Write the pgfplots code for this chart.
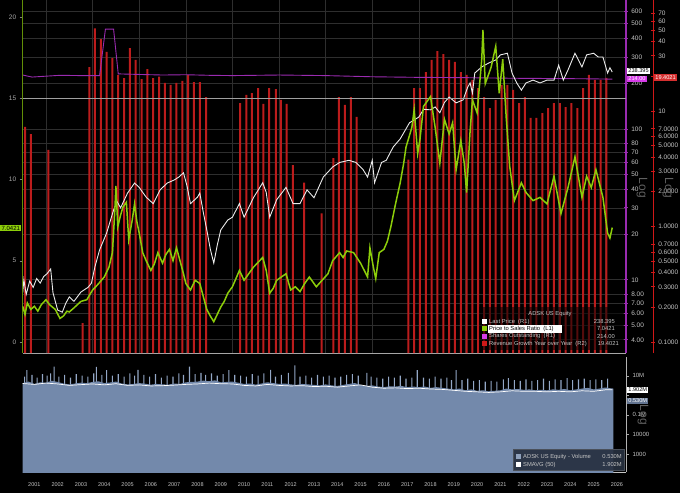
\documentclass[border=0pt]{standalone}
\usepackage{fontspec}
\setmainfont{Liberation Sans}
\usepackage{pgfplots}
\pgfplotsset{compat=1.18}
\definecolor{gridgray}{HTML}{2E2E2E}
\definecolor{psgreen}{HTML}{8CCD0A}
\definecolor{r1purple}{HTML}{9A2BB0}
\definecolor{tagmag}{HTML}{D63CE8}
\definecolor{barred}{HTML}{BC1C1C}
\definecolor{r2red}{HTML}{D01818}
\definecolor{volblue}{HTML}{7389AB}
\definecolor{spikeblue}{HTML}{93A7C6}
\definecolor{lbl}{HTML}{C4C4C4}
\definecolor{legbg}{HTML}{273040}
\newcommand\fs[1]{\fontsize{#1}{#1}\selectfont}
\pgfplotsset{
  upper/.style={scale only axis, width=603.3pt, height=353pt, at={(22.7pt,140pt)}, anchor=south west,
    xmin=2001, xmax=2026.89, clip=true},
}
\begin{document}
\begin{tikzpicture}[x=1pt,y=1pt]
\fill[black] (0,0) rectangle (680,493);

% ---------- R1 grid and axis ----------
\begin{axis}[upper, ymode=log, ymin=3.27, ymax=717,
  axis x line*=bottom, axis y line*=right,
  x axis line style={color=gray!70,-}, y axis line style={color=r1purple, line width=1.1pt,-},
  xtick={2002,2004,...,2026}, xticklabels={}, xmajorgrids, ymajorgrids, yminorticks=false,
  major grid style={color=gridgray, line width=0.6pt},
  ytick={4,5,6,7,8,10,20,30,40,50,60,70,80,100,200,300,400,500,600},
  yticklabels={4.00,5.00,6.00,7.00,8.00,10,20,30,40,50,60,70,80,100,200,300,400,500,600},
  yticklabel style={font=\fs{6.5}, text=lbl, xshift=0pt},
  major tick length=3.5pt, tick align=center, ytick style={color=r1purple, line width=0.8pt},
  xtick style={draw=none}]
\addplot[draw=none] coordinates {(2001,10)};
\end{axis}

% ---------- R2 bars ----------
\begin{axis}[scale only axis, width=630.3pt, height=353pt, at={(22.7pt,140pt)}, anchor=south west,
  xmin=2001, xmax=2028.05, ymode=log, ymin=0.0803, ymax=91.4, log origin=infty,
  axis x line=none, axis y line*=right, yminorticks=false,
  y axis line style={color=r2red, line width=1pt,-},
  ytick={0.1,0.2,0.3,0.4,0.5,0.6,0.7,1,2,3,4,5,6,7,10,20,30,40,50,60,70},
  yticklabels={0.1000,0.2000,0.3000,0.4000,0.5000,0.6000,0.7000,1.0000,2.0000,3.0000,4.0000,5.0000,6.0000,7.0000,10,,30,40,50,60,70},
  yticklabel style={font=\fs{6.5}, text=lbl},
  major tick length=3.5pt, tick align=center, ytick style={color=r2red, line width=0.8pt}]
\addplot[ybar, bar width=2pt, bar shift=0pt, fill=barred, draw=none] table {
2001.10 7.3
2001.35 6.3
2002.10 4.6
2003.57 0.146
2003.86 24
2004.10 52
2004.35 42
2004.60 32.5
2004.85 28.7
2005.10 20.5
2005.35 19.3
2005.60 35
2005.85 27.7
2006.10 18.9
2006.35 23
2006.60 19.3
2006.86 19.8
2007.10 17.5
2007.35 16.8
2007.60 17.5
2007.85 18.2
2008.10 20.5
2008.35 17.8
2008.60 17.8
2008.87 13.2
2010.33 11.7
2010.60 13.8
2010.83 14.3
2011.10 15.8
2011.33 11.5
2011.58 15.8
2011.87 15.5
2012.08 12.5
2012.33 11.5
2012.59 3.4
2013.08 2.4
2013.83 1.3
2014.33 3.9
2014.57 13.2
2014.83 11.3
2015.08 13.2
2015.33 8.9
2017.55 3.8
2017.80 15.8
2018.05 15.8
2018.30 21.7
2018.55 27.7
2018.80 33
2019.05 31
2019.30 27.7
2019.55 26.6
2019.80 21.7
2020.05 20.5
2020.30 18.6
2020.55 15.8
2020.80 13.2
2021.05 10.6
2021.30 12.5
2021.55 16.8
2021.80 16.8
2022.05 15.2
2022.30 11.7
2022.55 13.2
2022.80 8.7
2023.05 8.7
2023.30 9.6
2023.55 10.6
2023.80 11.7
2024.05 11.7
2024.30 10.8
2024.55 11.7
2024.80 10.6
2025.05 15.8
2025.30 20.5
2025.55 18.6
2025.80 18.6
2026.05 19.4
};
\end{axis}

% ---------- R1 data ----------
\begin{axis}[upper, ymode=log, ymin=3.27, ymax=717, hide axis]
\addplot[r1purple, line width=0.9pt] table {
2001.00 228
2001.40 221
2002.00 224
2002.60 227
2003.50 226
2004.30 226
2004.55 460
2004.90 460
2005.10 232
2006.00 230
2007.00 228
2008.00 229
2009.00 227
2010.00 226
2012.00 228
2014.00 226
2016.00 222
2018.00 220
2020.00 219
2022.00 217
2024.00 216
2025.50 215
2026.30 214
};
\addplot[white!92!black, line width=0.9pt] table {
2001.00 8.2
2001.05 10.0
2001.15 8.0
2001.30 9.8
2001.45 8.9
2001.60 10.2
2001.75 9.5
2001.90 10.5
2002.05 11.0
2002.20 11.8
2002.30 8.2
2002.50 6.3
2002.70 6.1
2002.85 7.0
2003.00 7.7
2003.20 7.2
2003.50 8.3
2003.80 8.9
2003.95 9.5
2004.10 12.2
2004.30 15.8
2004.60 20.4
2004.90 29
2005.05 33
2005.20 30
2005.50 37.6
2005.80 43.8
2006.00 41
2006.15 38
2006.30 35.3
2006.60 32
2006.90 39.5
2007.20 43.8
2007.50 45.9
2007.70 48
2007.90 51.2
2008.05 42
2008.20 32
2008.50 35.3
2008.60 37.6
2008.75 28
2008.90 21.4
2009.05 16
2009.20 12.9
2009.35 17
2009.50 21.4
2009.80 24.9
2010.00 26
2010.30 32
2010.50 26
2010.90 35
2011.30 44
2011.45 38
2011.60 26
2011.90 34
2012.30 41
2012.60 32
2012.90 32
2013.20 39.5
2013.50 35
2013.90 48
2014.30 56
2014.60 60
2015.00 62
2015.30 60
2015.60 54
2015.80 48
2016.00 62
2016.10 44
2016.40 60
2016.60 62
2016.90 76
2017.20 86
2017.60 110
2018.00 120
2018.20 135
2018.50 134
2018.70 140
2018.90 128
2019.10 150
2019.30 163
2019.60 149
2019.90 156
2020.10 190
2020.20 202
2020.30 173
2020.40 235
2020.70 258
2021.00 274
2021.30 287
2021.50 310
2021.80 318
2022.00 235
2022.20 202
2022.40 181
2022.60 202
2022.90 211
2023.20 202
2023.50 211
2023.80 211
2024.00 265
2024.20 211
2024.40 246
2024.70 318
2025.00 258
2025.20 310
2025.50 318
2025.70 300
2025.90 300
2026.10 235
2026.20 255
2026.30 238.4
};
\end{axis}

% ---------- L1 axis: P/S ratio ----------
\begin{axis}[upper, ymin=-0.677, ymax=21.046,
  axis x line=none, axis y line*=left,
  y axis line style={color=psgreen!70!black, line width=0.8pt,-},
  ytick={0,5,10,15,20}, yticklabels={0,5,10,15,20},
  yticklabel style={font=\fs{6.5}, text=lbl!85!black},
  major tick length=3pt, tick align=outside, ytick style={color=gray}]
\addplot[gray!75, line width=0.9pt] coordinates {(2001,15) (2026.89,15)};
\addplot[psgreen, line width=1.5pt] table {
2001.00 2.2
2001.10 1.7
2001.20 2.4
2001.35 2.0
2001.50 2.2
2001.65 1.9
2001.80 2.3
2002.00 2.6
2002.15 2.3
2002.40 2.0
2002.60 1.45
2002.75 1.6
2002.90 1.9
2003.00 1.85
2003.20 2.1
2003.50 2.5
2003.75 2.6
2004.00 3.2
2004.20 3.5
2004.50 4.0
2004.70 4.6
2004.85 5.5
2004.95 8.0
2005.00 9.6
2005.08 7.1
2005.20 7.8
2005.30 8.3
2005.45 8.6
2005.55 6.3
2005.70 7.5
2005.80 8.5
2005.90 7.4
2006.00 6.7
2006.15 5.5
2006.30 5.0
2006.50 4.4
2006.65 4.8
2006.80 5.5
2007.00 4.85
2007.15 5.4
2007.30 5.7
2007.45 5.0
2007.60 5.8
2007.75 5.0
2007.90 4.2
2008.00 3.6
2008.20 3.2
2008.40 3.8
2008.60 3.6
2008.75 2.8
2008.90 2.0
2009.05 1.6
2009.20 1.25
2009.35 1.7
2009.50 2.15
2009.65 2.5
2009.80 3.0
2010.00 3.4
2010.15 3.9
2010.30 4.4
2010.50 3.8
2010.70 4.2
2010.90 4.6
2011.10 4.9
2011.30 5.2
2011.45 4.4
2011.60 3.0
2011.75 3.3
2011.90 3.8
2012.10 4.0
2012.30 4.2
2012.50 3.2
2012.70 3.4
2012.90 3.1
2013.10 3.6
2013.30 4.0
2013.60 3.4
2013.85 3.8
2014.10 4.2
2014.30 5.0
2014.60 5.5
2014.75 5.2
2014.90 5.6
2015.20 5.5
2015.50 4.85
2015.80 4.0
2015.90 5.8
2016.05 4.6
2016.15 3.9
2016.30 5.5
2016.50 5.7
2016.65 6.2
2016.80 7.1
2017.00 8.5
2017.20 9.8
2017.35 11.0
2017.45 12.0
2017.70 13.2
2017.80 14.3
2017.95 11.6
2018.05 12.5
2018.20 14.5
2018.50 15.1
2018.70 13.2
2018.90 11.0
2019.10 13.7
2019.30 12.8
2019.45 13.5
2019.60 10.6
2019.80 12.4
2019.95 11.0
2020.05 9.2
2020.20 13.0
2020.30 14.9
2020.50 14.1
2020.70 17.4
2020.75 19.2
2020.85 15.9
2021.10 16.9
2021.30 18.2
2021.45 15.3
2021.60 17.4
2021.75 13.8
2021.90 10.8
2022.10 8.7
2022.40 9.8
2022.60 9.2
2022.90 8.7
2023.20 8.9
2023.50 8.5
2023.80 10.2
2024.10 7.9
2024.40 9.5
2024.70 11.4
2025.00 8.9
2025.20 10.2
2025.40 9.5
2025.60 10.6
2025.90 8.9
2026.10 6.7
2026.20 6.4
2026.30 7.04
};
\end{axis}

% ---------- Volume panel ----------
\begin{axis}[scale only axis, width=603.3pt, height=115pt, at={(22.7pt,21pt)}, anchor=south west,
  xmin=2001, xmax=2026.89, ymode=log, ymin=1.22e-4, ymax=90,
  axis x line*=bottom, axis y line*=right, yminorticks=false,
  x axis line style={color=lbl,-}, y axis line style={color=gray!60,-},
  xtick={2001.5,2002.5,2003.5,2004.5,2005.5,2006.5,2007.5,2008.5,2009.5,2010.5,2011.5,2012.5,2013.5,2014.5,2015.5,2016.5,2017.5,2018.5,2019.5,2020.5,2021.5,2022.5,2023.5,2024.5,2025.5,2026.5},
  xticklabels={2001,2002,2003,2004,2005,2006,2007,2008,2009,2010,2011,2012,2013,2014,2015,2016,2017,2018,2019,2020,2021,2022,2023,2024,2025,2026},
  xticklabel style={font=\fs{5.5}, text=lbl, yshift=-4pt},
  minor xtick={2001,2002,...,2026}, minor tick length=18pt, minor tick style={color=gray!55},
  xtick style={draw=none}, tick align=outside,
  ytick={0.001,0.01,0.1,1,10}, yticklabels={1000,10000,0.1M,,10M},
  yticklabel style={font=\fs{6}, text=lbl},
  major tick length=3pt, ytick style={color=gray!70}]
\addplot[ybar, bar width=1.1pt, bar shift=0pt, fill=spikeblue, draw=none] table {
2001.08 9
2001.18 19
2001.40 11
2001.62 8
2001.85 12
2002.05 10
2002.20 13
2002.35 29
2002.55 9
2002.80 11
2003.05 8
2003.30 12
2003.55 10
2003.80 9
2004.05 13
2004.16 28
2004.40 11
2004.60 19
2004.85 10
2005.10 12
2005.35 9
2005.60 13
2005.80 10
2005.95 20
2006.20 11
2006.45 9
2006.70 12
2006.95 8
2007.20 10
2007.45 9
2007.70 13
2007.90 11
2008.16 29
2008.40 12
2008.65 14
2008.85 11
2009.10 13
2009.35 10
2009.60 12
2009.85 19
2010.10 11
2010.35 10
2010.60 9
2010.85 12
2011.10 10
2011.35 13
2011.64 20
2011.85 9
2012.10 11
2012.40 14
2012.68 34
2012.90 9
2013.15 10
2013.40 8
2013.65 11
2013.90 9
2014.15 10
2014.40 8
2014.65 9
2014.90 11
2015.15 12
2015.40 10
2015.77 14
2015.95 9
2016.20 8
2016.45 7
2016.70 9
2016.95 8
2017.20 10
2017.45 7
2017.70 8
2017.93 19
2018.20 8
2018.45 7
2018.70 9
2018.95 7
2019.20 8
2019.40 6
2019.60 19
2019.85 6
2020.10 7
2020.35 5.5
2020.60 6
2020.85 5
2021.10 5.5
2021.35 5
2021.63 6.5
2021.84 7.5
2022.10 6
2022.35 5.5
2022.60 6.5
2022.85 5.5
2023.10 6
2023.35 7
2023.60 5.5
2023.85 6.5
2024.10 6
2024.36 7.6
2024.60 6
2024.85 6.5
2025.10 7
2025.35 6
2025.60 6.5
2025.85 6
2026.10 7
};
\addplot[fill=volblue, draw=none] table {
2001.00 0.00001
2001.00 4.2
2001.25 5.0
2001.50 3.8
2001.75 4.6
2002.00 4.4
2002.25 5.5
2002.50 4.8
2002.75 4.0
2003.00 3.6
2003.25 4.0
2003.50 4.4
2003.75 4.2
2004.00 4.8
2004.25 5.2
2004.50 4.2
2004.75 4.5
2005.00 5.0
2005.25 4.0
2005.50 3.6
2005.75 3.8
2006.00 4.2
2006.25 3.9
2006.50 3.5
2006.75 3.8
2007.00 3.6
2007.25 3.5
2007.50 4.0
2007.75 3.8
2008.00 4.6
2008.25 4.8
2008.50 5.0
2008.75 5.6
2009.00 5.2
2009.25 5.8
2009.50 4.6
2009.75 4.8
2010.00 5.0
2010.25 4.4
2010.50 3.8
2010.75 4.0
2011.00 3.5
2011.25 4.0
2011.50 4.6
2011.75 4.2
2012.00 3.8
2012.25 4.0
2012.50 3.6
2012.75 3.4
2013.00 3.8
2013.25 3.6
2013.50 3.4
2013.75 3.2
2014.00 3.6
2014.25 3.2
2014.50 3.0
2014.75 3.4
2015.00 3.8
2015.25 4.2
2015.50 3.4
2015.75 3.0
2016.00 3.2
2016.25 2.8
2016.50 2.6
2016.75 2.9
2017.00 2.8
2017.25 3.0
2017.50 2.6
2017.75 2.8
2018.00 2.6
2018.25 2.8
2018.50 2.4
2018.75 2.6
2019.00 2.4
2019.25 2.2
2019.50 2.0
2019.75 2.2
2020.00 1.8
2020.25 2.0
2020.50 1.7
2020.75 1.8
2021.00 1.6
2021.25 1.7
2021.50 1.8
2021.75 2.2
2022.00 2.0
2022.25 2.1
2022.50 1.9
2022.75 2.0
2023.00 1.8
2023.25 1.9
2023.50 1.8
2023.75 2.0
2024.00 1.9
2024.25 2.1
2024.50 1.8
2024.75 2.0
2025.00 2.2
2025.25 2.4
2025.50 2.0
2025.75 2.2
2026.00 2.5
2026.20 2.3
2026.35 2.2
2026.35 0.00001
};
\addplot[white, line width=0.7pt] table {
2001.00 4.0
2001.50 3.6
2002.00 4.2
2002.50 3.8
2003.00 3.2
2003.50 3.5
2004.00 3.8
2004.50 3.4
2005.00 3.9
2005.50 3.2
2006.00 3.4
2006.50 3.0
2007.00 3.1
2007.50 3.3
2008.00 3.6
2008.50 3.8
2009.00 4.2
2009.50 3.9
2010.00 3.8
2010.50 3.2
2011.00 3.0
2011.50 3.6
2012.00 3.2
2012.50 3.0
2013.00 3.1
2013.50 2.8
2014.00 2.9
2014.50 2.6
2015.00 3.0
2015.50 3.4
2016.00 2.6
2016.50 2.3
2017.00 2.4
2017.50 2.2
2018.00 2.3
2018.50 2.1
2019.00 2.0
2019.50 1.8
2020.00 1.6
2020.50 1.5
2021.00 1.4
2021.50 1.5
2022.00 1.7
2022.50 1.6
2023.00 1.6
2023.50 1.5
2024.00 1.6
2024.50 1.5
2025.00 1.7
2025.50 1.6
2026.00 1.9
2026.30 1.902
};
\end{axis}

% ---------- value tags ----------
\node[fill=psgreen, text=black, font=\fs{6}, inner sep=1.3pt, anchor=east] at (21.5,265) {7.0421};
\node[fill=white, text=black, font=\fs{5.6}, inner sep=1.2pt, anchor=west] at (627,422) {238.395};
\node[fill=tagmag, text=white, font=\fs{5.6}, inner sep=1.2pt, anchor=west] at (627,414) {214.00};
\node[fill=r2red!90!white, text=white, font=\fs{5.6}, inner sep=1.2pt, anchor=west] at (654,415.5) {19.4021};
\node[fill=white, text=black, font=\fs{5.6}, inner sep=1.2pt, anchor=west] at (627,103) {1.902M};
\node[fill=volblue!85!black, text=white, font=\fs{5.6}, inner sep=1.2pt, anchor=west] at (627,92) {0.530M};

% ---------- Log labels ----------
\node[rotate=-90, text=gray!75!black, font=\fs{12}] at (642,305) {Log};
\node[rotate=-90, text=gray!75!black, font=\fs{12}] at (668,305) {Log};
\node[rotate=-90, text=gray!75!black, font=\fs{12}] at (643,78) {Log};

% ---------- upper legend ----------
\fill[black, opacity=0.55] (479,143) rectangle (623,186);
\node[text=lbl, font=\fs{5.8}] at (550,178.5) {ADSK US Equity};
\fill[white] (482,168.8) rectangle (487,173.8);
\node[anchor=west, text=lbl, font=\fs{5.8}, inner sep=0pt] at (489,171.3) {Last Price\ \ (R1)};
\node[anchor=east, text=lbl, font=\fs{5.8}, inner sep=0pt] at (615,171.3) {238.395};
\fill[psgreen] (482,161.5) rectangle (487,166.5);
\fill[white] (487.5,160.3) rectangle (562,167.7);
\node[anchor=west, text=black, font=\fs{5.8}, inner sep=0pt] at (489,164) {Price to Sales Ratio\ \ (L1)};
\node[anchor=east, text=lbl, font=\fs{5.8}, inner sep=0pt] at (615,164) {7.0421};
\fill[tagmag] (482,154) rectangle (487,159);
\node[anchor=west, text=lbl, font=\fs{5.8}, inner sep=0pt] at (489,156.5) {Shares Outstanding\ \ (R1)};
\node[anchor=east, text=lbl, font=\fs{5.8}, inner sep=0pt] at (615,156.5) {214.00};
\fill[r2red] (482,146.5) rectangle (487,151.5);
\node[anchor=west, text=lbl, font=\fs{5.8}, inner sep=0pt] at (489,149) {Revenue Growth Year over Year\ \ (R2)};
\node[anchor=east, text=lbl, font=\fs{5.8}, inner sep=0pt] at (619,149) {19.4021};

% ---------- lower legend ----------
\fill[legbg, opacity=0.92] (513,23) rectangle (624,44);
\draw[gray!40!legbg] (513,23) rectangle (624,44);
\fill[volblue!80!white] (516,33.8) rectangle (521,38.8);
\node[anchor=west, text=lbl, font=\fs{5.8}, inner sep=0pt] at (523,36.3) {ADSK US Equity - Volume};
\node[anchor=east, text=lbl, font=\fs{5.8}, inner sep=0pt] at (622,36.3) {0.530M};
\fill[white] (516,25.8) rectangle (521,30.8);
\node[anchor=west, text=lbl, font=\fs{5.8}, inner sep=0pt] at (523,28.3) {SMAVG (50)};
\node[anchor=east, text=lbl, font=\fs{5.8}, inner sep=0pt] at (622,28.3) {1.902M};

\pgfresetboundingbox
\path[use as bounding box] (0,0) rectangle (680,493);
\end{tikzpicture}
\end{document}
